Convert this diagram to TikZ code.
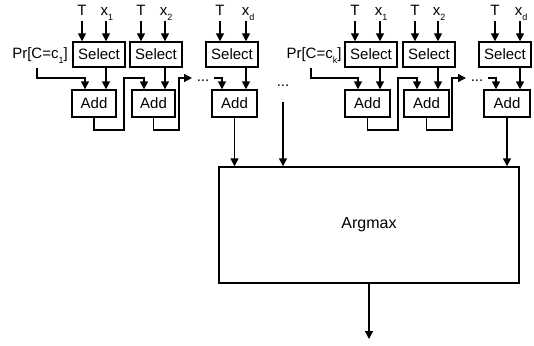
\documentclass[tikz,border=0pt]{standalone}
\usepackage{fontspec}
\setmainfont{Liberation Sans}
\usetikzlibrary{arrows.meta}
\newcommand\sbx[1]{\raisebox{-0.3em}{\fontsize{9}{9}\selectfont #1}}
\begin{document}
\begin{tikzpicture}[x=1pt,y=-1pt,
  lw/.style={line width=1.4pt},
  arr/.style={lw,-{Triangle[length=8pt,width=8pt]}},
  ln/.style={lw},
  selbox/.style={draw,lw,minimum width=52pt,minimum height=25pt,inner sep=0pt,font=\fontsize{15}{15}\selectfont},
  addbox/.style={draw,lw,minimum width=44pt,minimum height=27pt,inner sep=0pt,font=\fontsize{15}{15}\selectfont},
  lab/.style={inner sep=0pt,anchor=base,font=\fontsize{15}{15}\selectfont},
  dotlab/.style={inner sep=0pt,anchor=base,font=\fontsize{15}{15}\selectfont}]
\useasboundingbox (0,0) rectangle (534,345);

% ---------- left group ----------
\node[selbox] (s1) at (99,54.5) {Select};
\node[selbox] (s2) at (156,54.5) {Select};
\node[selbox] (s3) at (232,54.5) {Select};
\node[addbox] (a1) at (94,103.5) {Add};
\node[addbox,minimum width=43pt] (a2) at (153.5,103.5) {Add};
\node[addbox,minimum width=45pt] (a3) at (234.5,103.5) {Add};

\node[lab] (lt1) at (82,16) {T};
\node[lab] (lx1) at (107,16) {x\sbx{1}};
\node[lab] (lt2) at (141,16) {T};
\node[lab] (lx2) at (166,16) {x\sbx{2}};
\node[lab] (lt3) at (220,16) {T};
\node[lab] (lx3) at (248,16) {x\sbx{d}};
\coordinate (ct1) at (82,21);
\coordinate (cx1) at (106,21);
\coordinate (ct2) at (141,21);
\coordinate (cx2) at (165,21);
\coordinate (ct3) at (220,21);
\coordinate (cx3) at (246,21);
\foreach \c/\b in {ct1/s1,cx1/s1,ct2/s2,cx2/s2,ct3/s3,cx3/s3}
  \draw[arr] (\c) -- (\c |- \b.north);
\draw[arr] (s1.south -| cx1) -- (cx1 |- a1.north);
\draw[arr] (s2.south -| cx2) -- (cx2 |- a2.north);
\draw[arr] (s3.south -| cx3) -- (cx3 |- a3.north);

\node[lab] (pr1) at (40,59) {Pr[C=c\sbx{1}]};
\coordinate (p1) at (37,68);
\draw[arr] (p1) -- (37,78) -- (85,78) -- (85,78 |- a1.north);
\draw[arr] (a1.south) -- (94,130) -- (124,130) -- (124,78) -- (144,78) -- (144,78 |- a2.north);
\coordinate (d1) at (192,78);
\draw[arr] (a2.south) -- (153.5,130) -- (179,130) -- (179,78) -- (d1);
\node[dotlab] (dots1) at (203,81) {...};
\coordinate (e1) at (214,78);
\draw[arr] (e1) -- (222,78) -- (222,78 |- a3.north);

% ---------- right group ----------
\node[selbox] (s4) at (371,54.5) {Select};
\node[selbox] (s5) at (429,54.5) {Select};
\node[selbox] (s6) at (505,54.5) {Select};
\node[addbox,minimum width=45pt] (a4) at (367.5,103.5) {Add};
\node[addbox,minimum width=45pt] (a5) at (426.5,103.5) {Add};
\node[addbox,minimum width=46pt] (a6) at (507,103.5) {Add};

\node[lab] (lt4) at (355,16) {T};
\node[lab] (lx4) at (381,16) {x\sbx{1}};
\node[lab] (lt5) at (415,16) {T};
\node[lab] (lx5) at (439,16) {x\sbx{2}};
\node[lab] (lt6) at (495,16) {T};
\node[lab] (lx6) at (521,16) {x\sbx{d}};
\coordinate (ct4) at (355,21);
\coordinate (cx4) at (380,21);
\coordinate (ct5) at (415,21);
\coordinate (cx5) at (438,21);
\coordinate (ct6) at (495,21);
\coordinate (cx6) at (520,21);
\foreach \c/\b in {ct4/s4,cx4/s4,ct5/s5,cx5/s5,ct6/s6,cx6/s6}
  \draw[arr] (\c) -- (\c |- \b.north);
\draw[arr] (s4.south -| cx4) -- (cx4 |- a4.north);
\draw[arr] (s5.south -| cx5) -- (cx5 |- a5.north);
\draw[arr] (s6.south -| cx6) -- (cx6 |- a6.north);

\node[lab] (pr2) at (314,59) {Pr[C=c\sbx{k}]};
\coordinate (p2) at (311,68);
\draw[arr] (p2) -- (311,78) -- (358,78) -- (358,78 |- a4.north);
\draw[arr] (a4.south) -- (367.5,130) -- (398,130) -- (398,78) -- (417,78) -- (417,78 |- a5.north);
\coordinate (d2) at (466,78);
\draw[arr] (a5.south) -- (426.5,130) -- (452,130) -- (452,78) -- (d2);
\node[dotlab] (dots2) at (477,81) {...};
\coordinate (e2) at (488,78);
\draw[arr] (e2) -- (496,78) -- (496,78 |- a6.north);

% ---------- argmax ----------
\node[draw,lw,minimum width=300pt,minimum height=116pt,inner sep=0pt,font=\fontsize{16}{16}\selectfont] (am) at (369,225) {Argmax};
\node[dotlab] (dotsm) at (283,86) {...};
\coordinate (m1) at (283,102);
\draw[arr] (m1) -- (m1 |- am.north);
\draw[arr] (a3.south) -- (a3.south |- am.north);
\draw[arr] (a6.south) -- (a6.south |- am.north);
\coordinate (out) at (369,339);
\draw[arr] (am.south) -- (out);
\end{tikzpicture}
\end{document}
